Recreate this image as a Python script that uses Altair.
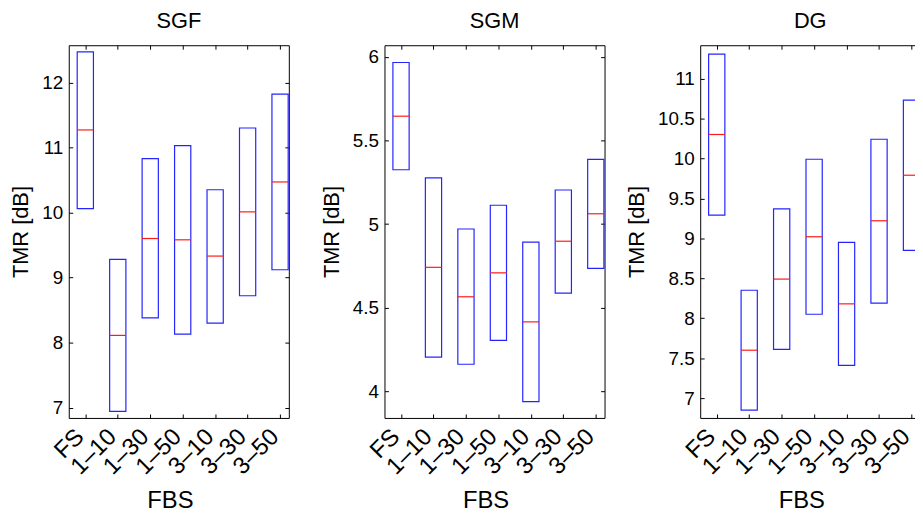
import altair as alt
import pandas as pd

categories = ["FS", "1–10", "1–30", "1–50", "3–10", "3–30", "3–50"]
panel_titles = ["SGF", "SGM", "DG"]
x_label = "FBS"
y_label = "TMR [dB]"

sgf_upper = [12.47, 9.28, 10.83, 11.03, 10.35, 11.30, 11.82]
sgf_median = [11.27, 8.11, 9.60, 9.58, 9.33, 10.01, 10.47]
sgf_lower = [10.06, 6.94, 8.38, 8.13, 8.30, 8.72, 9.12]

sgm_upper = [5.966, 5.277, 4.971, 5.113, 4.892, 5.204, 5.387]
sgm_median = [5.645, 4.742, 4.566, 4.709, 4.416, 4.898, 5.062]
sgm_lower = [5.325, 4.205, 4.163, 4.306, 3.940, 4.588, 4.736]

dg_upper = [11.305, 8.35, 9.37, 9.99, 8.95, 10.24, 10.73]
dg_median = [10.30, 7.60, 8.49, 9.02, 8.18, 9.22, 9.79]
dg_lower = [9.29, 6.85, 7.61, 8.05, 7.41, 8.19, 8.85]

sgf_yticks = [7, 8, 9, 10, 11, 12]
sgm_yticks = [4, 4.5, 5, 5.5, 6]
dg_yticks = [7, 7.5, 8, 8.5, 9, 9.5, 10, 10.5, 11]

sgf_ylim = [6.84, 12.573]
sgm_ylim = [3.842, 6.069]
dg_ylim = [6.752, 11.417]
x_lim = [0.49, 7.27]

FONT = "Liberation Sans"
PANEL_W = 222
PANEL_H = 376

label_expr = "[" + ",".join(f"'{c}'" for c in categories) + "][datum.value - 1]"
positions = list(range(1, len(categories) + 1))


def panel(title, lower, median, upper, yticks, ylim):
    df = pd.DataFrame({
        "pos": positions,
        "cat": categories,
        "lo": lower,
        "med": median,
        "hi": upper,
    })
    base = alt.Chart(df).transform_calculate(
        xl="datum.pos - 0.25", xr="datum.pos + 0.25"
    )
    xscale = alt.Scale(domain=x_lim, nice=False, zero=False)
    yscale = alt.Scale(domain=ylim, nice=False, zero=False)

    bottom_axis = alt.Axis(
        orient="bottom", values=positions, labelExpr=label_expr,
        labelAngle=-45, labelAlign="right", labelBaseline="middle",
        labelFontSize=24, labelPadding=15, labelOffset=-5.5, labelOverlap=False,
        offset=-4, tickSize=4, domain=False, grid=False,
        title=x_label, titleFontSize=24, titleX=PANEL_W / 2 - 9,
        titleY=94, titleBaseline="alphabetic",
    )
    top_axis = alt.Axis(
        orient="top", values=positions, labels=False, offset=-4,
        tickSize=4, domain=False, grid=False, title=None,
    )
    left_axis = alt.Axis(
        orient="left", values=yticks, format="~g", labelFontSize=19,
        labelPadding=6, offset=-4, tickSize=4, domain=False, grid=False,
        labelOverlap=False,
        title=y_label, titleFontSize=22, titlePadding=9,
    )
    right_axis = alt.Axis(
        orient="right", values=yticks, labels=False, offset=-4,
        tickSize=4, domain=False, grid=False, title=None,
    )

    boxes = base.mark_rect(
        fillOpacity=0, stroke="#2424ff", strokeWidth=1.2
    ).encode(
        x=alt.X("xl:Q", scale=xscale, axis=bottom_axis),
        x2="xr:Q",
        y=alt.Y("lo:Q", scale=yscale, axis=left_axis),
        y2="hi:Q",
    )
    medians = base.mark_rule(color="#ff1a1a", strokeWidth=1.2).encode(
        x=alt.X("xl:Q", scale=xscale, axis=top_axis),
        x2="xr:Q",
        y=alt.Y("med:Q", scale=yscale, axis=right_axis),
    )
    return (
        alt.layer(boxes, medians)
        .resolve_axis(x="independent", y="independent")
        .properties(width=PANEL_W, height=PANEL_H, title=title)
    )


p1 = panel(panel_titles[0], sgf_lower, sgf_median, sgf_upper, sgf_yticks, sgf_ylim)
p2 = panel(panel_titles[1], sgm_lower, sgm_median, sgm_upper, sgm_yticks, sgm_ylim)
p3 = panel(panel_titles[2], dg_lower, dg_median, dg_upper, dg_yticks, dg_ylim)

chart = (
    alt.hconcat(p1, p2, p3, spacing=96.5, bounds="flush")
    .configure_view(stroke="#000000", strokeWidth=1)
    .configure_axis(
        labelFont=FONT, titleFont=FONT, labelColor="#000000",
        titleColor="#000000", tickColor="#000000", titleFontWeight="normal",
    )
    .configure_title(
        font=FONT, fontSize=22, fontWeight="normal", color="#000000",
        anchor="middle", baseline="alphabetic", offset=12,
    )
    .properties(
        background="white",
        autosize=alt.AutoSizeParams(type="none"),
        padding={"left": 61.3, "top": 33.7, "right": 853.7, "bottom": 466.3},
    )
)

chart.save("out.html", embed_options={"renderer": "svg", "actions": False})
